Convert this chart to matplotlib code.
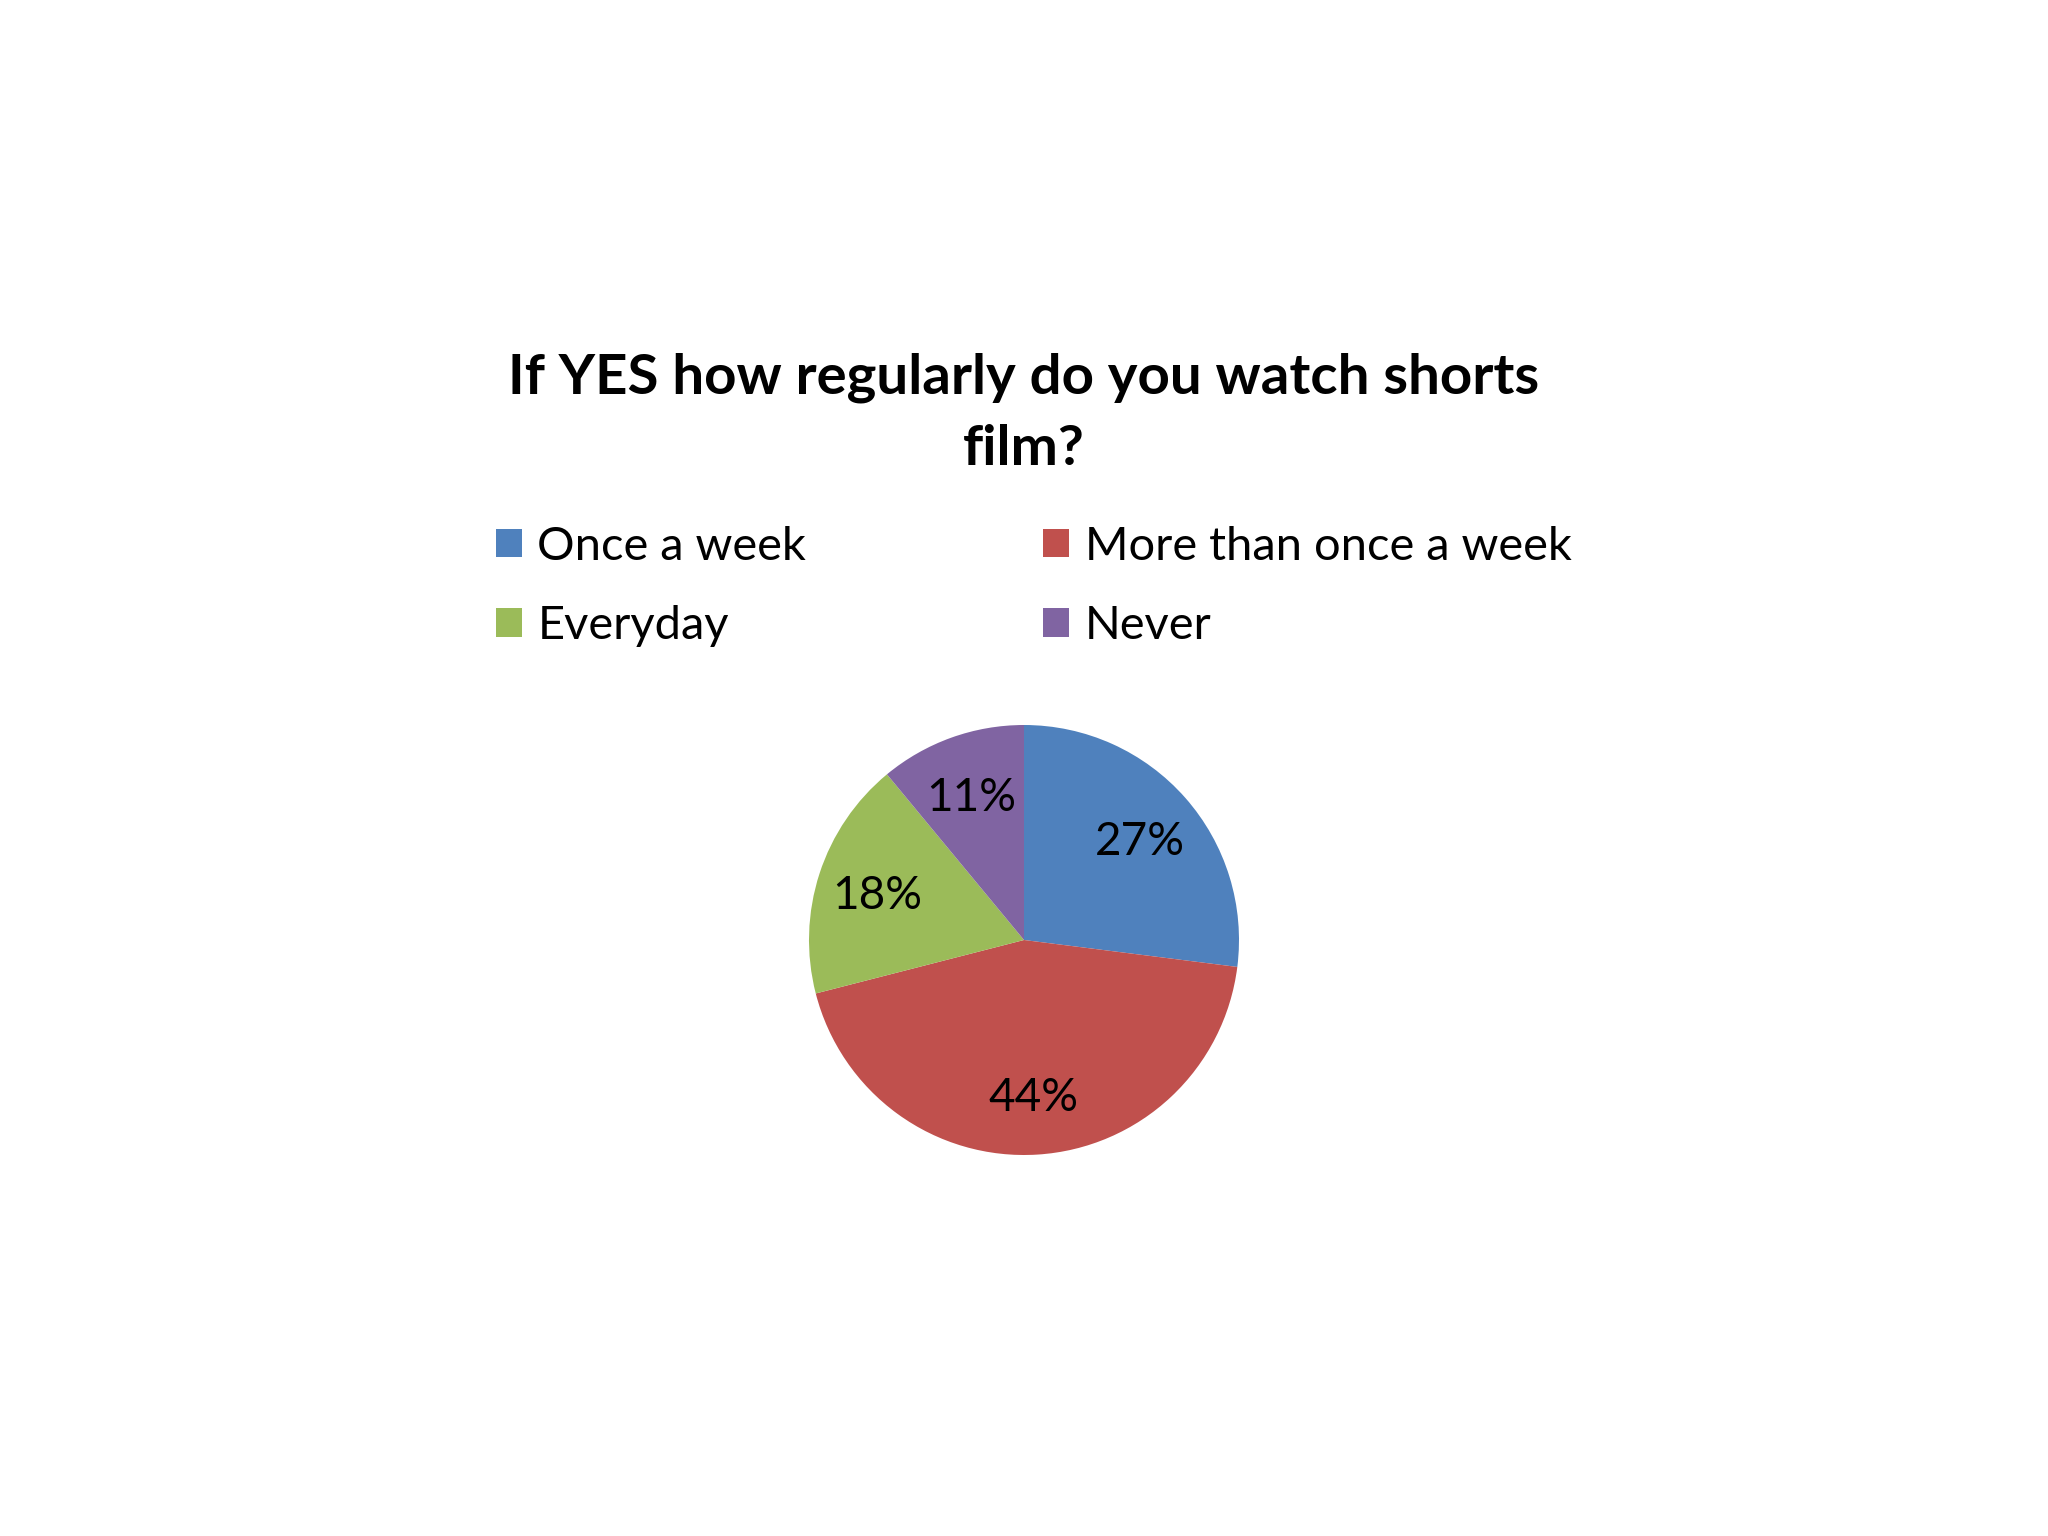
import matplotlib
matplotlib.use("Agg")
import matplotlib.pyplot as plt
from matplotlib.patches import Patch

categories = ["Once a week", "More than once a week", "Everyday", "Never"]
values = [27, 44, 18, 11]
colors = ["#4F81BD", "#C0504D", "#9BBB59", "#8064A2"]
title = "If YES how regularly do you watch shorts\nfilm?"

plt.rcParams['font.family'] = ['Lato', 'DejaVu Sans']

W, H = 2048, 1536
fig = plt.figure(figsize=(W / 100, H / 100), dpi=100)
fig.patch.set_facecolor("white")

cx, cy, r = 1024, 940, 215
ax = fig.add_axes([(cx - r) / W, (H - cy - r) / H, 2 * r / W, 2 * r / H])
wedges, texts, autotexts = ax.pie(
    values, colors=colors, startangle=90, counterclock=False,
    autopct=lambda p: f"{p:.0f}%", pctdistance=0.72,
    textprops=dict(fontsize=33, color="black"),
    wedgeprops=dict(linewidth=0))
for t in autotexts:
    t.set_va("center_baseline")
ax.set_xlim(-1, 1)
ax.set_ylim(-1, 1)
ax.set_aspect("equal")
ax.axis("off")

fig.text(0.5, 1 - 0.269, title, ha="center", va="center", fontsize=40.6,
         fontweight="bold", linespacing=1.52)

handles = [Patch(facecolor=c, edgecolor="none") for c in colors]
order = [0, 2, 1, 3]
fig.legend([handles[i] for i in order],
           [categories[i] for i in order],
           ncol=2, loc="upper left", bbox_to_anchor=(0.233, 1 - 0.33),
           frameon=False, fontsize=33.8, handlelength=0.55, handleheight=0.55,
           handletextpad=0.33, columnspacing=5.05, labelspacing=0.8,
           borderaxespad=0)

fig.savefig("out.png", dpi=100, facecolor="white")
